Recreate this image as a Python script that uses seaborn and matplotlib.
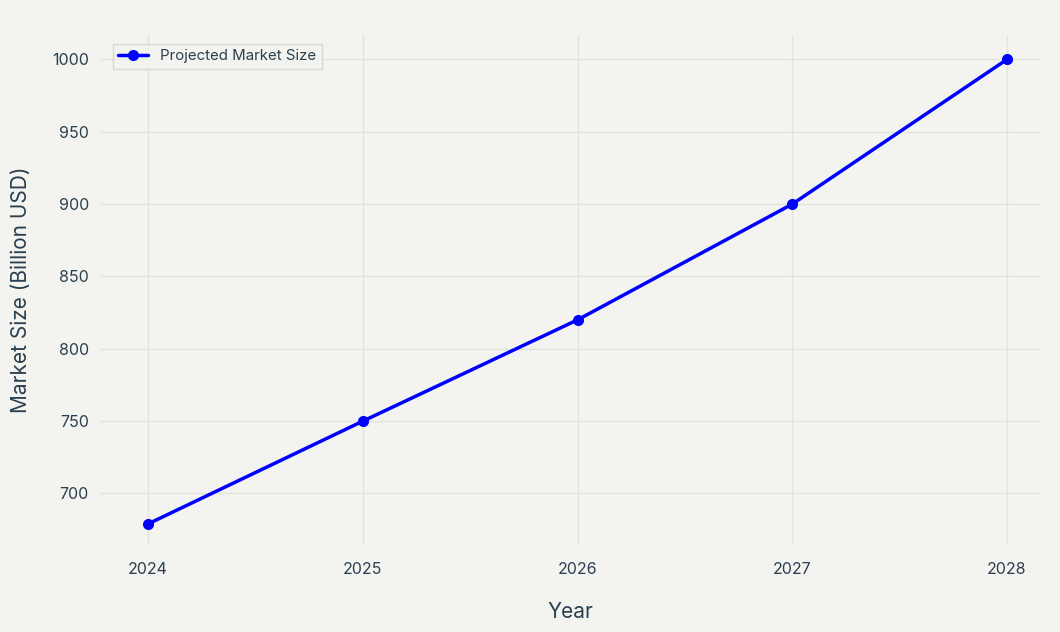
import matplotlib
matplotlib.use("Agg")
import matplotlib.pyplot as plt
import seaborn as sns
import pandas as pd

years = [2024, 2025, 2026, 2027, 2028]
market_size = [679, 750, 820, 900, 1000]
series_name = "Projected Market Size"
y_ticks = [700, 750, 800, 850, 900, 950, 1000]

df = pd.DataFrame({"Year": years, "Market Size": market_size})

sns.set_theme(style="whitegrid")
plt.rcParams['font.family'] = ['Inter', 'DejaVu Sans']
bg = "#f3f3ef"
text_c = "#2a3f4f"

fig = plt.figure(figsize=(10.6, 6.32), dpi=100, facecolor=bg)
ax = fig.add_axes([100/1060, 1 - 545/632, 940/1060, 510/632])
ax.set_facecolor(bg)

sns.lineplot(data=df, x="Year", y="Market Size", ax=ax, color="#0000ff",
             linewidth=2.5, marker="o", markersize=8, markeredgewidth=0,
             label=series_name)

ax.set_xlim(2023.776, 2028.154)
ax.set_ylim(664.4, 1016.9)
ax.set_xticks(years)
ax.set_xticklabels([str(y) for y in years])
ax.set_yticks(y_ticks)
ax.grid(True, color="#e3e3df", linewidth=1)
for s in ax.spines.values():
    s.set_visible(False)
ax.tick_params(axis='both', colors=text_c, labelsize=11.5, length=0, pad=8)
ax.tick_params(axis='x', pad=12)
ax.set_xlabel("Year", fontsize=15, color=text_c, labelpad=18)
ax.set_ylabel("Market Size (Billion USD)", fontsize=15, color=text_c, labelpad=15)

leg = ax.legend(loc="upper left", bbox_to_anchor=(13/940, 1 - 9/510), borderaxespad=0,
                fontsize=10.8, frameon=True, facecolor=bg, edgecolor="#d0d0cc",
                fancybox=False, labelcolor=text_c, borderpad=0.35, handlelength=2.0)
leg.get_frame().set_linewidth(1)

fig.savefig("out.png", dpi=100, facecolor=bg)
